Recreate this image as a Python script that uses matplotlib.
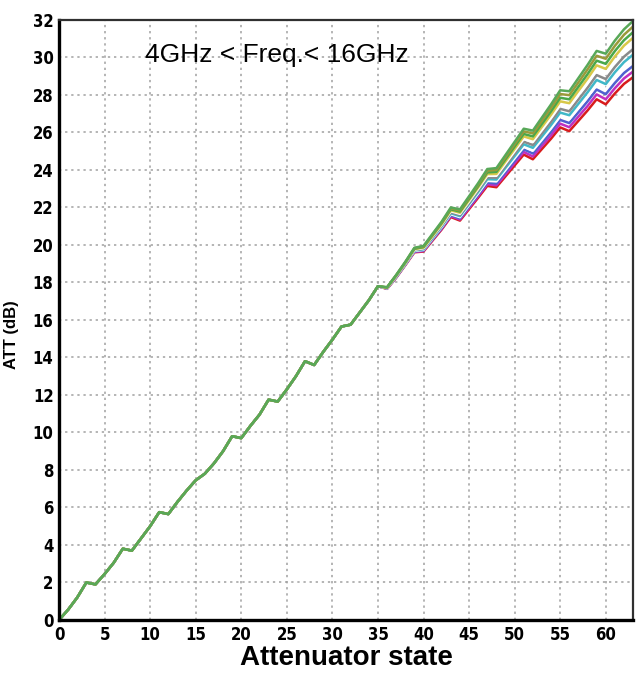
import matplotlib
matplotlib.use('Agg')
import matplotlib.pyplot as plt

states = list(range(64))

# states 0..35: all frequency traces lie on top of each other
att_common = [0.0, 0.55, 1.2, 2.0, 1.9, 2.45, 3.05, 3.8, 3.7, 4.35,
              5.0, 5.75, 5.65, 6.3, 6.9, 7.45, 7.8, 8.35, 9.0, 9.8,
              9.7, 10.35, 10.95, 11.75, 11.65, 12.3, 13.0, 13.8, 13.6, 14.3,
              14.95, 15.65, 15.75, 16.4, 17.05, 17.8]

# states 36..63: traces fan out, one list per trace (top to bottom)
att_tr01 = [17.75, 18.40, 19.10, 19.85, 19.95, 20.60, 21.25, 22.00, 21.90, 22.60,
            23.30, 24.05, 24.10, 24.80, 25.50, 26.20, 26.10, 26.80, 27.50, 28.25,
            28.20, 28.90, 29.60, 30.35, 30.20, 30.90, 31.50, 31.95]
att_tr02 = [17.74, 18.39, 19.08, 19.83, 19.92, 20.56, 21.21, 21.95, 21.84, 22.53,
            23.22, 23.96, 24.00, 24.69, 25.37, 26.06, 25.95, 26.63, 27.32, 28.05,
            27.99, 28.67, 29.36, 30.09, 29.93, 30.62, 31.21, 31.65]
att_tr03 = [17.73, 18.37, 19.06, 19.80, 19.89, 20.53, 21.17, 21.90, 21.78, 22.46,
            23.14, 23.87, 23.90, 24.57, 25.25, 25.92, 25.79, 26.46, 27.13, 27.85,
            27.77, 28.44, 29.11, 29.83, 29.66, 30.34, 30.92, 31.35]
att_tr04 = [17.72, 18.36, 19.05, 19.78, 19.86, 20.49, 21.12, 21.85, 21.72, 22.39,
            23.07, 23.78, 23.79, 24.46, 25.12, 25.79, 25.64, 26.30, 26.95, 27.66,
            27.56, 28.22, 28.87, 29.58, 29.39, 30.05, 30.63, 31.05]
att_tr05 = [17.71, 18.34, 19.03, 19.75, 19.83, 20.46, 21.08, 21.80, 21.66, 22.32,
            22.99, 23.69, 23.69, 24.34, 25.00, 25.65, 25.49, 26.13, 26.77, 27.46,
            27.35, 27.99, 28.63, 29.32, 29.12, 29.77, 30.34, 30.75]
att_tr06 = [17.70, 18.33, 19.01, 19.73, 19.80, 20.42, 21.04, 21.74, 21.60, 22.25,
            22.91, 23.60, 23.59, 24.23, 24.87, 25.51, 25.33, 25.96, 26.58, 27.26,
            27.13, 27.76, 28.38, 29.06, 28.85, 29.49, 30.04, 30.45]
att_tr07 = [17.70, 18.31, 18.99, 19.71, 19.77, 20.38, 21.00, 21.69, 21.54, 22.19,
            22.83, 23.51, 23.49, 24.12, 24.74, 25.37, 25.18, 25.79, 26.40, 27.06,
            26.92, 27.53, 28.14, 28.80, 28.58, 29.21, 29.75, 30.15]
att_tr08 = [17.69, 18.30, 18.97, 19.68, 19.74, 20.35, 20.96, 21.64, 21.48, 22.12,
            22.75, 23.42, 23.39, 24.00, 24.62, 25.23, 25.03, 25.62, 26.22, 26.86,
            26.71, 27.30, 27.90, 28.54, 28.31, 28.93, 29.46, 29.85]
att_tr09 = [17.68, 18.28, 18.96, 19.66, 19.71, 20.31, 20.91, 21.59, 21.42, 22.05,
            22.68, 23.33, 23.28, 23.89, 24.49, 25.10, 24.88, 25.46, 26.04, 26.67,
            26.50, 27.08, 27.66, 28.29, 28.04, 28.64, 29.17, 29.55]
att_tr10 = [17.67, 18.27, 18.94, 19.63, 19.68, 20.28, 20.87, 21.54, 21.36, 21.98,
            22.60, 23.24, 23.18, 23.77, 24.37, 24.96, 24.72, 25.29, 25.85, 26.47,
            26.28, 26.85, 27.41, 28.03, 27.77, 28.36, 28.88, 29.25]
att_tr11 = [17.66, 18.25, 18.92, 19.61, 19.65, 20.24, 20.83, 21.49, 21.30, 21.91,
            22.52, 23.15, 23.08, 23.66, 24.24, 24.82, 24.57, 25.12, 25.67, 26.27,
            26.07, 26.62, 27.17, 27.77, 27.50, 28.08, 28.59, 28.95]

traces = [att_tr11, att_tr10, att_tr09, att_tr08, att_tr07, att_tr06,
          att_tr05, att_tr04, att_tr03, att_tr02, att_tr01]
colors = ['#d81c1c', '#c030c0', '#5060d0', '#ffffff', '#40b8c8', '#8a8a8a',
          '#ffffff', '#d8c848', '#4aa84a', '#9a9a3a', '#58a858']

xticks = list(range(0, 61, 5))
yticks = list(range(0, 33, 2))

fig = plt.figure(figsize=(6.4, 6.79), dpi=100)
ax = fig.add_axes([0.0922, 0.0869, 0.897, 0.8837])

for tr, c in zip(traces, colors):
    ax.plot(states, att_common + tr, color=c, lw=1.8, solid_joinstyle='round')

ax.set_xlim(0, 63)
ax.set_ylim(0, 32)
ax.set_xticks(xticks)
ax.set_yticks(yticks)
ax.grid(True, color='#a0a0a0', linestyle=(0, (1.5, 2.5)), lw=1.1)
ax.set_axisbelow(True)
ax.tick_params(length=0, pad=4)

for lab in ax.get_xticklabels() + ax.get_yticklabels():
    lab.set_fontfamily(['DejaVu Sans'])
    lab.set_fontstretch('condensed')
    lab.set_fontweight('bold')
    lab.set_fontsize(12)

for side in ['left', 'bottom']:
    ax.spines[side].set_linewidth(2.4)
for side in ['top', 'right']:
    ax.spines[side].set_linewidth(1.6)
    ax.spines[side].set_color('#303030')

ax.set_xlabel('Attenuator state', family=['Liberation Sans', 'DejaVu Sans'],
              weight='bold', size=20, labelpad=1)
ax.set_ylabel('ATT (dB)', family=['Liberation Sans', 'DejaVu Sans'],
              weight='bold', size=12)
ax.yaxis.set_label_coords(-0.07, 0.475)

ax.text(0.149, 0.942, '4GHz < Freq.< 16GHz', transform=ax.transAxes,
        family=['Liberation Sans', 'DejaVu Sans'], size=19, va='center')

fig.savefig('out.png', dpi=100)
